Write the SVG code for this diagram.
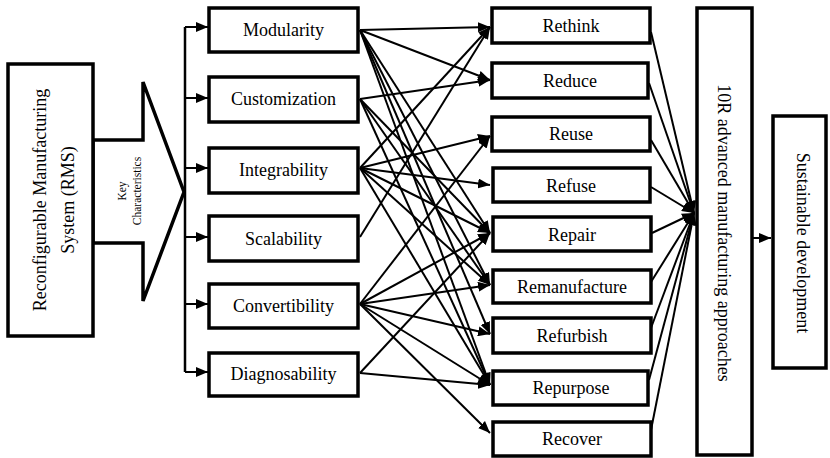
<svg xmlns="http://www.w3.org/2000/svg" width="830" height="458" viewBox="0 0 830 458">
<style>
.box{fill:#fff;stroke:#000;stroke-width:3.5}
.t{font-family:"Liberation Serif","Times New Roman",serif;font-size:18px;fill:#000;text-anchor:middle}
.c{stroke:#000;stroke-width:2;fill:none;marker-end:url(#ah)}
.p{stroke:#000;stroke-width:2.5;fill:none}
</style>
<defs>
<marker id="ah" markerUnits="userSpaceOnUse" markerWidth="12" markerHeight="10" refX="12" refY="5" orient="auto">
<path d="M0,0 L12,5 L0,10 z" fill="#000"/>
</marker>
</defs>
<rect width="830" height="458" fill="#fff"/>

<g id="key-arrow">
<polygon points="93,140 143,140 143,82 184,192 143,301 143,243 93,243" fill="#fff" stroke="#000" stroke-width="3.5"/>
<text class="t" style="font-size:11.5px" transform="translate(126,191) rotate(-90)">Key</text>
<text class="t" style="font-size:11.5px" transform="translate(141,191) rotate(-90)">Characteristics</text>
</g>

<g id="rms">
<rect class="box" x="8" y="64" width="85" height="272"/>
<text class="t" transform="translate(46,200) rotate(-90)">Reconfigurable Manufacturing</text>
<text class="t" transform="translate(74,200) rotate(-90)">System (RMS)</text>
</g>

<g id="connectors">
<path class="p" d="M185,192 L185,27 M185,192 L185,372"/>
<line class="c" x1="185" y1="27" x2="208" y2="27"/>
<line class="c" x1="185" y1="98" x2="208" y2="98"/>
<line class="c" x1="185" y1="168" x2="208" y2="168"/>
<line class="c" x1="185" y1="237" x2="208" y2="237"/>
<line class="c" x1="185" y1="304" x2="208" y2="304"/>
<line class="c" x1="185" y1="372" x2="208" y2="372"/>

<!-- Modularity -->
<line class="c" x1="360" y1="30" x2="490" y2="27"/>
<line class="c" x1="360" y1="30" x2="490" y2="80"/>
<line class="c" x1="360" y1="30" x2="490" y2="233"/>
<line class="c" x1="360" y1="30" x2="490" y2="285"/>
<line class="c" x1="360" y1="30" x2="490" y2="334"/>
<line class="c" x1="360" y1="30" x2="490" y2="385"/>
<!-- Customization -->
<line class="c" x1="360" y1="99" x2="490" y2="80"/>
<line class="c" x1="360" y1="99" x2="490" y2="233"/>
<line class="c" x1="360" y1="99" x2="490" y2="285"/>
<line class="c" x1="360" y1="99" x2="490" y2="385"/>
<!-- Integrability -->
<line class="c" x1="360" y1="168" x2="490" y2="27"/>
<line class="c" x1="360" y1="168" x2="490" y2="136"/>
<line class="c" x1="360" y1="168" x2="490" y2="185"/>
<line class="c" x1="360" y1="168" x2="490" y2="233"/>
<line class="c" x1="360" y1="168" x2="490" y2="285"/>
<line class="c" x1="360" y1="168" x2="490" y2="385"/>
<!-- Scalability -->
<line class="c" x1="360" y1="237" x2="490" y2="27"/>
<!-- Convertibility -->
<line class="c" x1="360" y1="304" x2="490" y2="136"/>
<line class="c" x1="360" y1="304" x2="490" y2="233"/>
<line class="c" x1="360" y1="304" x2="490" y2="285"/>
<line class="c" x1="360" y1="304" x2="490" y2="334"/>
<line class="c" x1="360" y1="304" x2="490" y2="385"/>
<line class="c" x1="360" y1="304" x2="490" y2="433"/>
<!-- Diagnosability -->
<line class="c" x1="360" y1="373" x2="490" y2="233"/>
<line class="c" x1="360" y1="373" x2="490" y2="385"/>

<!-- 10R to 10R approaches -->
<line class="c" x1="651" y1="32" x2="694" y2="213"/>
<line class="c" x1="649" y1="83" x2="694" y2="213"/>
<line class="c" x1="651" y1="140" x2="694" y2="213"/>
<line class="c" x1="651" y1="187" x2="694" y2="213"/>
<line class="c" x1="652" y1="233" x2="694" y2="213"/>
<line class="c" x1="651" y1="282" x2="694" y2="213"/>
<line class="c" x1="651" y1="328" x2="694" y2="213"/>
<line class="c" x1="649" y1="380" x2="694" y2="213"/>
<line class="c" x1="651" y1="430" x2="694" y2="213"/>

<line class="c" x1="752" y1="238" x2="771" y2="238"/>
</g>

<g id="modularity"><rect class="box" x="209" y="8" width="149" height="44"/><text class="t" x="283.5" y="36">Modularity</text></g>
<g id="customization"><rect class="box" x="209" y="77" width="149" height="45"/><text class="t" x="283.5" y="105">Customization</text></g>
<g id="integrability"><rect class="box" x="209" y="148" width="149" height="45"/><text class="t" x="283.5" y="176">Integrability</text></g>
<g id="scalability"><rect class="box" x="209" y="216" width="149" height="45"/><text class="t" x="283.5" y="245">Scalability</text></g>
<g id="convertibility"><rect class="box" x="209" y="284" width="149" height="44"/><text class="t" x="283.5" y="312">Convertibility</text></g>
<g id="diagnosability"><rect class="box" x="209" y="353" width="149" height="43"/><text class="t" x="283.5" y="380">Diagnosability</text></g>

<g id="rethink"><rect class="box" x="492" y="8" width="158" height="35"/><text class="t" x="571" y="32">Rethink</text></g>
<g id="reduce"><rect class="box" x="492" y="63" width="156" height="35"/><text class="t" x="570" y="87">Reduce</text></g>
<g id="reuse"><rect class="box" x="492" y="117" width="158" height="34"/><text class="t" x="571" y="140">Reuse</text></g>
<g id="refuse"><rect class="box" x="493" y="168" width="157" height="34"/><text class="t" x="571" y="192">Refuse</text></g>
<g id="repair"><rect class="box" x="493" y="217" width="158" height="34"/><text class="t" x="572" y="241">Repair</text></g>
<g id="remanufacture"><rect class="box" x="493" y="270" width="158" height="33"/><text class="t" x="572" y="293">Remanufacture</text></g>
<g id="refurbish"><rect class="box" x="493" y="318" width="158" height="35"/><text class="t" x="572" y="342">Refurbish</text></g>
<g id="repurpose"><rect class="box" x="493" y="371" width="155" height="34"/><text class="t" x="571" y="394">Repurpose</text></g>
<g id="recover"><rect class="box" x="493" y="422" width="158" height="34"/><text class="t" x="572" y="445">Recover</text></g>

<g id="approaches"><rect class="box" x="697" y="8" width="55" height="447"/><text class="t" transform="translate(718,233) rotate(90)">10R advanced manufacturing approaches</text></g>
<g id="sustainable"><rect class="box" x="773" y="116" width="53" height="252"/><text class="t" transform="translate(797,243) rotate(90)">Sustainable development</text></g>
</svg>
